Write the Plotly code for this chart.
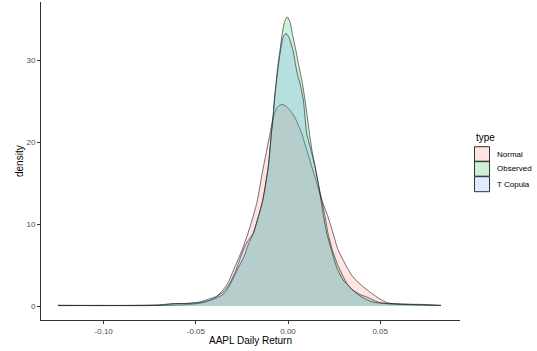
import plotly.graph_objects as go

# ---- data ----
types = ["Normal", "Observed", "T Copula"]

normal_x = [-0.1248, -0.1020, -0.0749, -0.0613, -0.0532, -0.0477, -0.0434, -0.0396, -0.0358, -0.0326,
            -0.0288, -0.0250, -0.0217, -0.0190, -0.0168, -0.0136, -0.0098, -0.0081, -0.0060, -0.0038,
            -0.0016, 0.0011, 0.0038, 0.0074, 0.0101, 0.0129, 0.0156, 0.0184, 0.0217, 0.0244,
            0.0271, 0.0318, 0.0347, 0.0380, 0.0427, 0.0488, 0.0537, 0.0608, 0.0716, 0.0830]
normal_y = [0.05, 0.05, 0.05, 0.1, 0.2, 0.35, 0.6, 1.0, 1.8, 2.8,
            4.8, 6.8, 8.9, 10.9, 12.7, 16.7, 21.0, 23.0, 24.2, 24.6,
            24.5, 23.9, 23.0, 21.1, 19.1, 17.0, 15.0, 12.9, 10.9, 8.9,
            6.9, 4.8, 3.7, 2.9, 2.0, 1.0, 0.4, 0.2, 0.1, 0.05]

observed_x = [-0.1248, -0.1020, -0.0803, -0.0695, -0.0624, -0.0559, -0.0477, -0.0423, -0.0385, -0.0347,
              -0.0315, -0.0271, -0.0239, -0.0217, -0.0188, -0.0161, -0.0137, -0.0107, -0.0090, -0.0081,
              -0.0074, -0.0065, -0.0056, -0.0043, -0.0031, -0.0019, -0.0004, 0.0011, 0.0023, 0.0042,
              0.0060, 0.0078, 0.0092, 0.0105, 0.0116, 0.0130, 0.0147, 0.0164, 0.0183, 0.0201,
              0.0217, 0.0241, 0.0274, 0.0318, 0.0347, 0.0391, 0.0427, 0.0456, 0.0499, 0.0608,
              0.0716, 0.0830]
observed_y = [0.1, 0.05, 0.1, 0.15, 0.3, 0.3, 0.4, 0.7, 1.0, 1.5,
              2.6, 4.6, 6.0, 7.4, 8.9, 10.9, 12.9, 17.0, 21.1, 23.1,
              25.2, 27.2, 29.2, 31.3, 33.3, 34.7, 35.3, 34.7, 33.3, 31.3,
              29.2, 27.2, 25.2, 23.1, 21.1, 19.0, 17.0, 15.0, 12.9, 10.9,
              8.9, 6.8, 4.8, 2.8, 2.0, 1.4, 1.1, 0.8, 0.4, 0.25,
              0.15, 0.05]

tcopula_x = [-0.1248, -0.1020, -0.0803, -0.0695, -0.0624, -0.0532, -0.0477, -0.0423, -0.0385, -0.0347,
             -0.0315, -0.0282, -0.0260, -0.0244, -0.0222, -0.0188, -0.0161, -0.0137, -0.0107, -0.0090,
             -0.0081, -0.0073, -0.0064, -0.0053, -0.0040, -0.0027, -0.0011, 0.0005, 0.0026, 0.0043,
             0.0054, 0.0065, 0.0083, 0.0092, 0.0101, 0.0125, 0.0147, 0.0164, 0.0179, 0.0193,
             0.0210, 0.0236, 0.0266, 0.0298, 0.0336, 0.0369, 0.0407, 0.0456, 0.0553, 0.0716,
             0.0830]
tcopula_y = [0.05, 0.08, 0.05, 0.1, 0.25, 0.35, 0.5, 0.9, 1.2, 1.8,
             2.8, 4.4, 5.8, 6.8, 7.8, 8.9, 10.9, 12.9, 17.0, 21.1,
             23.1, 25.2, 27.2, 29.2, 31.3, 32.8, 33.3, 32.8, 31.3, 29.2,
             28.0, 27.2, 25.2, 23.1, 21.1, 19.0, 17.0, 15.0, 12.9, 10.9,
             8.9, 6.8, 4.6, 3.2, 2.3, 1.6, 1.0, 0.5, 0.25, 0.2,
             0.1]

x_ticks = [-0.10, -0.05, 0.00, 0.05]
x_tick_labels = ["-0.10", "-0.05", "0.00", "0.05"]
y_ticks = [0, 10, 20, 30]

fills = {"Normal": "rgba(248,118,109,0.2)",
         "Observed": "rgba(0,186,56,0.2)",
         "T Copula": "rgba(97,156,255,0.2)"}
series = {"Normal": (normal_x, normal_y),
          "Observed": (observed_x, observed_y),
          "T Copula": (tcopula_x, tcopula_y)}

FONT = "Arial, Liberation Sans, sans-serif"

fig = go.Figure()
for t in types:
    xs, ys = series[t]
    fig.add_trace(go.Scatter(x=xs, y=ys, mode="lines", fill="tozeroy",
                             fillcolor=fills[t],
                             line=dict(color="#1a1a1a", width=0.6, shape="spline", smoothing=0.5),
                             name=t, showlegend=False))

W, H = 537, 351
L, R, T, B = 41, 77, 2, 31
pw, ph = W - L - R, H - T - B

def px_x(p):
    return (p - L) / pw

def px_y(p):
    return (H - B - p) / ph

shapes = []
annotations = []
key_tops = [146.7, 161.2, 176.7]
for i, t in enumerate(types):
    y0 = key_tops[i]
    shapes.append(dict(type="rect", xref="paper", yref="paper",
                       x0=px_x(474.5), x1=px_x(489.5), y0=px_y(y0 + 15), y1=px_y(y0),
                       fillcolor=fills[t], line=dict(color="#333333", width=1)))
    annotations.append(dict(text=t, xref="paper", yref="paper", x=px_x(495), y=px_y(y0 + 7.5),
                            xanchor="left", yanchor="middle", showarrow=False,
                            font=dict(family=FONT, size=8, color="black")))
annotations.append(dict(text="type", xref="paper", yref="paper", x=px_x(473.5), y=px_y(137),
                        xanchor="left", yanchor="middle", showarrow=False,
                        font=dict(family=FONT, size=10, color="black")))
annotations.append(dict(text="AAPL Daily Return", xref="paper", yref="paper", x=0.5, y=px_y(340),
                        xanchor="center", yanchor="middle", showarrow=False,
                        font=dict(family=FONT, size=10, color="black")))
annotations.append(dict(text="density", xref="paper", yref="paper", x=px_x(19), y=0.5,
                        xanchor="center", yanchor="middle", showarrow=False, textangle=-90,
                        font=dict(family=FONT, size=10, color="black")))

fig.update_layout(
    width=W, height=H,
    margin=dict(l=L, r=R, t=T, b=B, autoexpand=False),
    paper_bgcolor="white", plot_bgcolor="white",
    shapes=shapes, annotations=annotations, showlegend=False,
    font=dict(family=FONT),
    xaxis=dict(range=[-0.134, 0.0933], tickvals=x_ticks, ticktext=x_tick_labels,
               showgrid=False, zeroline=False, showline=True, linecolor="#333333", linewidth=1,
               ticks="outside", ticklen=3, tickcolor="#333333",
               tickfont=dict(family=FONT, size=8, color="#4D4D4D")),
    yaxis=dict(range=[-1.71, 37.12], tickvals=y_ticks,
               showgrid=False, zeroline=False, showline=True, linecolor="#333333", linewidth=1,
               ticks="outside", ticklen=3, tickcolor="#333333",
               tickfont=dict(family=FONT, size=8, color="#4D4D4D")),
)

fig.write_html("out.html", config={"displayModeBar": False},
               post_script="document.body.style.margin='0';document.body.style.overflow='hidden';")
